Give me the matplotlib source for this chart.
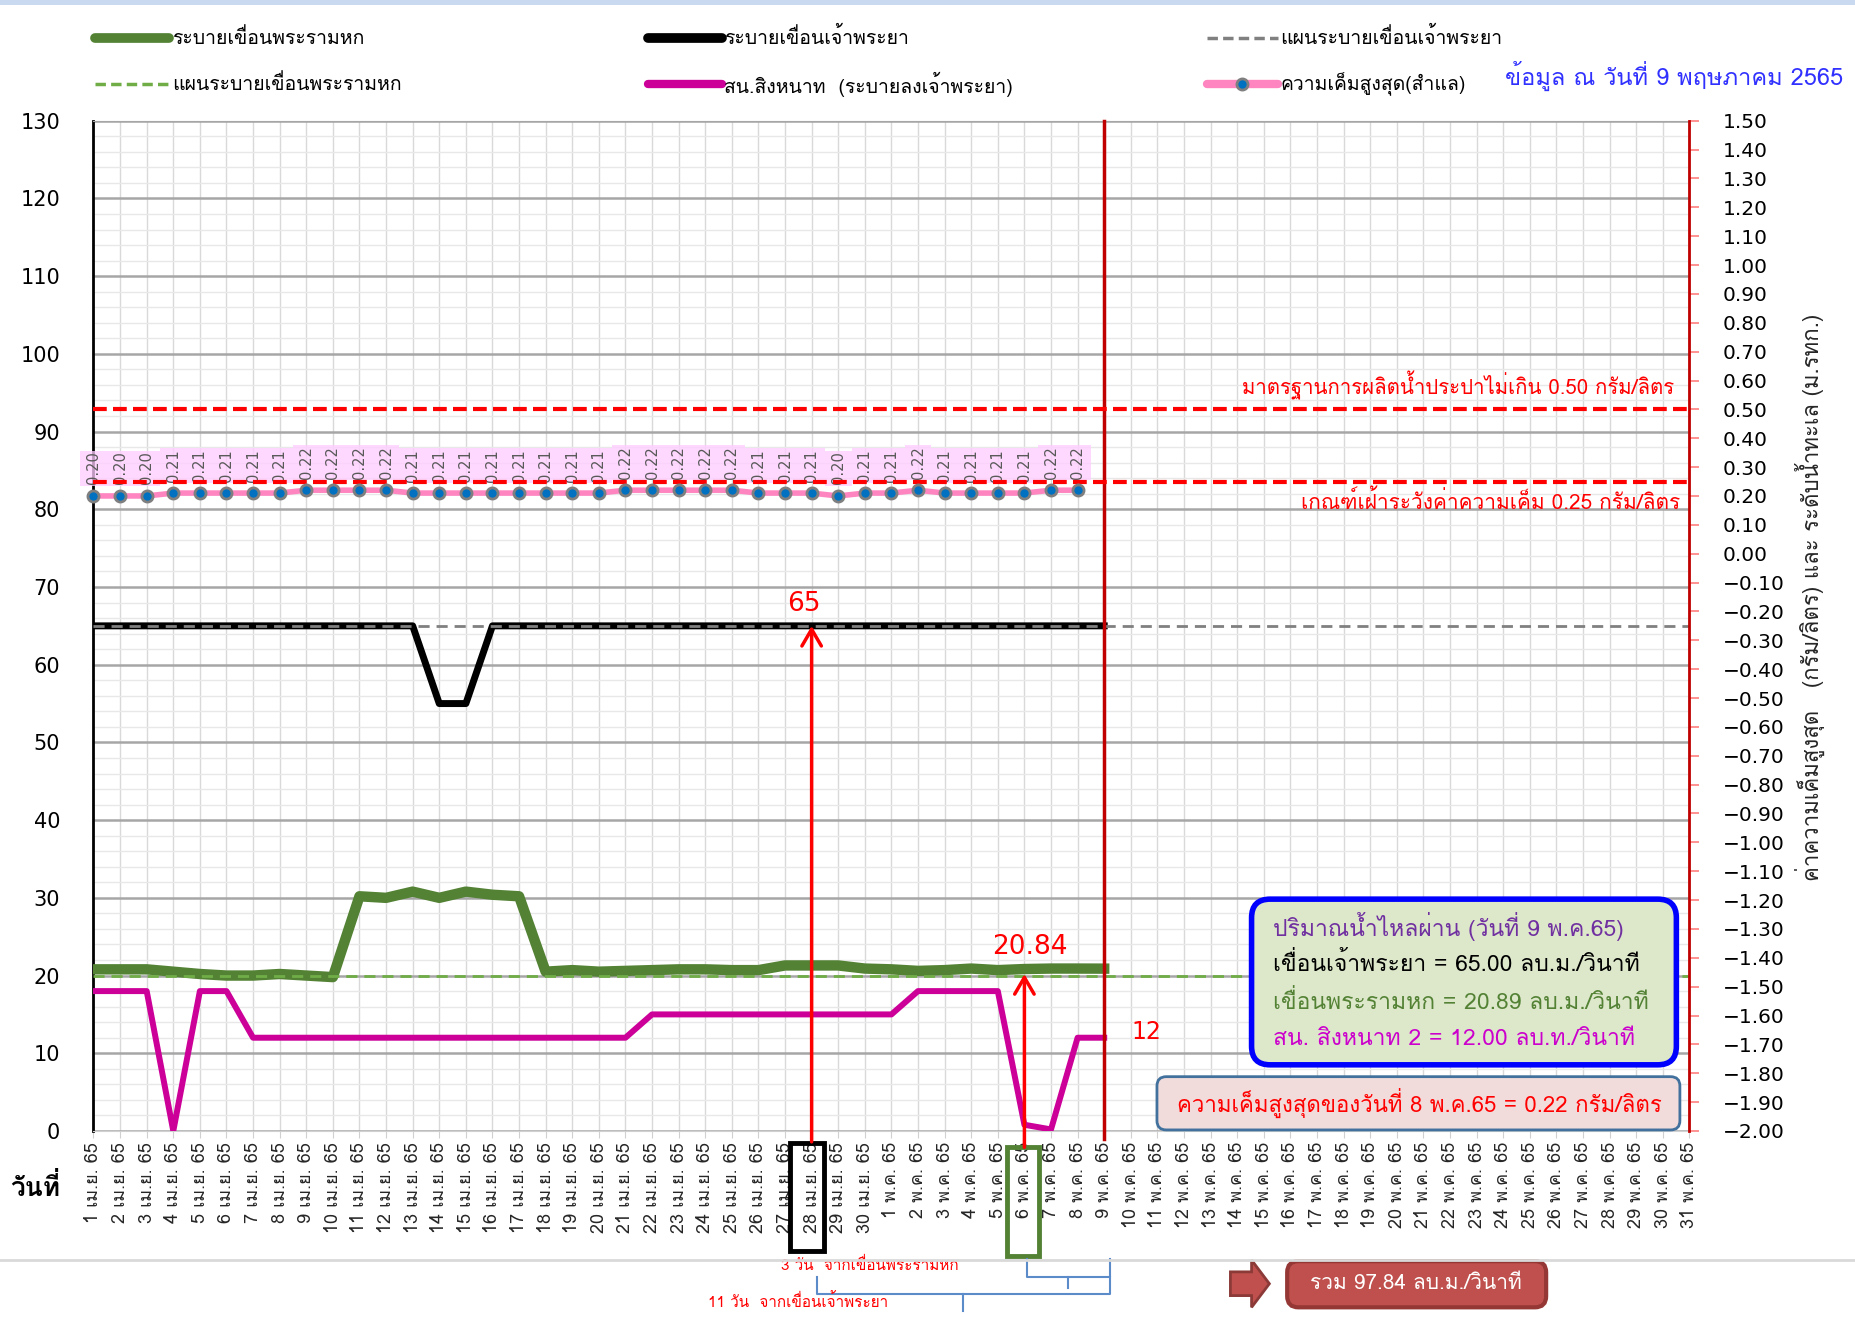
import numpy as np
import matplotlib
matplotlib.use("Agg")
import matplotlib.pyplot as plt
from matplotlib.patches import Rectangle, FancyBboxPatch, Polygon
from matplotlib.lines import Line2D
from matplotlib.ticker import MultipleLocator, FuncFormatter

THAI = ["Loma", "DejaVu Sans"]
plt.rcParams["font.family"] = THAI

# --- dates on the x axis (April + May 2565) ---
apr_days = list(range(1, 31))
may_days = list(range(1, 32))
apr_name = "เม.ย."
may_name = "พ.ค."
year_short = "65"
day_labels = ([f"{d} {apr_name} {year_short}" for d in apr_days] +
              [f"{d} {may_name} {year_short}" for d in may_days])

# --- discharge (m3/s), 1 Apr - 9 May ---
rama6_flow = [20.8, 20.8, 20.8, 20.5, 20.2, 20.0, 20.0, 20.2, 20.0, 19.8,
              30.2, 30.0, 30.8, 30.0, 30.8, 30.4, 30.2, 20.5, 20.7, 20.5,
              20.6, 20.7, 20.8, 20.8, 20.7, 20.7, 21.3, 21.3, 21.3, 20.9,
              20.8, 20.6, 20.7, 20.9, 20.7, 20.84, 20.9, 20.9, 20.89]
chao_flow = [65, 65, 65, 65, 65, 65, 65, 65, 65, 65,
             65, 65, 65, 55, 55, 65, 65, 65, 65, 65,
             65, 65, 65, 65, 65, 65, 65, 65, 65, 65,
             65, 65, 65, 65, 65, 65, 65, 65, 65]
singhanat_flow = [18, 18, 18, 0, 18, 18, 12, 12, 12, 12,
                  12, 12, 12, 12, 12, 12, 12, 12, 12, 12,
                  12, 15, 15, 15, 15, 15, 15, 15, 15, 15,
                  15, 18, 18, 18, 18, 0.8, 0.2, 12, 12]
rama6_plan = 20
chao_plan = 65
total_flow = 97.84

# --- max salinity at Samlae (g/l), 1 Apr - 8 May ---
salinity = [0.20, 0.20, 0.20, 0.21, 0.21, 0.21, 0.21, 0.21, 0.22, 0.22,
            0.22, 0.22, 0.21, 0.21, 0.21, 0.21, 0.21, 0.21, 0.21, 0.21,
            0.22, 0.22, 0.22, 0.22, 0.22, 0.21, 0.21, 0.21, 0.20, 0.21,
            0.21, 0.22, 0.21, 0.21, 0.21, 0.21, 0.22, 0.22]
limit_standard = 0.50
limit_watch = 0.25

GREEN = "#548235"
LIGHT_GREEN = "#70AD47"
MAGENTA = "#CC0099"
PINK = "#FF85C0"

x_all = np.arange(len(day_labels))
x_flow = np.arange(len(rama6_flow))
x_sal = np.arange(len(salinity))
today = len(rama6_flow) - 1

fig = plt.figure(figsize=(18.55, 13.18), dpi=100)
ax = fig.add_axes([0.0504, 0.1419, 0.8603, 0.7665])
ax2 = ax.twinx()

# left axis: discharge
ax.set_xlim(0, len(day_labels) - 1)
ax.set_ylim(0, 130)
ax.set_xticks(x_all)
ax.set_xticklabels(day_labels, rotation=90, fontsize=13, color="#262626")
ax.yaxis.set_major_locator(MultipleLocator(10))
ax.yaxis.set_minor_locator(MultipleLocator(2))
ax.set_axisbelow(True)
ax.grid(axis="y", which="major", color="#A6A6A6", lw=1.8)
ax.grid(axis="y", which="minor", color="#E8E8E8", lw=1)
ax.grid(axis="x", which="major", color="#D9D9D9", lw=1)
ax.tick_params(axis="y", which="both", length=0, pad=24, labelsize=15)
for t in ax.get_yticklabels():
    t.set_fontfamily("DejaVu Sans")
ax.tick_params(axis="x", length=5, color="#D0D0D0", pad=3)
ax.spines["left"].set_color("black")
ax.spines["left"].set_linewidth(2)
ax.spines["bottom"].set_color("#D0D0D0")
ax.spines["top"].set_color("#A6A6A6")
ax.spines["right"].set_visible(False)

ax.plot(x_all, [rama6_plan] * len(x_all), color=LIGHT_GREEN, lw=2,
        ls=(0, (4, 2.5)), zorder=4)
ax.plot(x_flow, rama6_flow, color=GREEN, lw=7.5, zorder=3,
        solid_joinstyle="round")
ax.plot(x_flow, chao_flow, color="black", lw=5, zorder=3)
ax.plot(x_all, [chao_plan] * len(x_all), color="#808080", lw=2,
        ls=(0, (4, 2.5)), zorder=4)
ax.plot(x_flow, singhanat_flow, color=MAGENTA, lw=4.3, zorder=3)

# current day marker
ax.plot([today, today], [-1, 130], color="#C00000", lw=2.5, zorder=5,
        clip_on=False)

# travel-time arrows
arrow_kw = dict(arrowstyle="->,head_length=1.2,head_width=0.7", color="red",
                lw=2.5, shrinkA=0, shrinkB=0, mutation_scale=10)
ax.annotate("", xy=(27, chao_flow[27]), xytext=(27, -1.4),
            arrowprops=arrow_kw, annotation_clip=False, zorder=6)
ax.annotate("", xy=(35, 20.2), xytext=(35, -2.1),
            arrowprops=arrow_kw, annotation_clip=False, zorder=6)
ax.text(26.7, 67.8, f"{chao_flow[27]:g}", color="red", fontsize=19,
        ha="center", va="center", family="DejaVu Sans")
ax.text(35.2, 23.7, f"{rama6_flow[35]:.2f}", color="red", fontsize=19,
        ha="center", va="center", family="DejaVu Sans")
ax.text(39.6, 12.8, f"{singhanat_flow[-1]:g}", color="red", fontsize=17,
        ha="center", va="center", family="DejaVu Sans")

# boxes around the release / arrival dates
ax.add_patch(Rectangle((26.2, -15.5), 1.25, 14.0, fill=False, ec="black",
                       lw=3.5, clip_on=False))
ax.add_patch(Rectangle((34.35, -16.1), 1.2, 14.0, fill=False, ec=GREEN,
                       lw=3.5, clip_on=False))

# braces under the axis
def brace(x0, x1, ytop, ybar, ytip):
    xc = (x0 + x1) / 2
    ax.plot([x0, x0, x1, x1], [ytop, ybar, ybar, ytop], color="#5B8BC9",
            lw=1.5, clip_on=False)
    ax.plot([xc, xc], [ybar, ytip], color="#5B8BC9", lw=1.5, clip_on=False)

brace(35.1, 38.2, -16.5, -18.8, -20.2)
brace(27.2, 38.2, -18.8, -21.0, -23.2)
ax.text(29.2, -17.3, "3 วัน  จากเขื่อนพระรามหก", color="red", fontsize=11,
        ha="center", va="center")
ax.text(26.5, -21.9, "11 วัน  จากเขื่อนเจ้าพระยา", color="red", fontsize=11,
        ha="center", va="center")

# right axis: salinity
ax2.set_ylim(-2.0, 1.5)
ax2.set_yticks(np.round(np.arange(-2.0, 1.501, 0.1), 2))
ax2.yaxis.set_major_formatter(
    FuncFormatter(lambda v, p: f"{v:.2f}".replace("-0.00", "0.00").replace("-", "\u2212")))
ax2.tick_params(axis="y", direction="out", length=7, color="#FF7F7F",
                width=1.2, pad=17, labelsize=14.5)
for t in ax2.get_yticklabels():
    t.set_fontfamily("DejaVu Sans")
ax2.spines["right"].set_color("#C00000")
ax2.spines["right"].set_linewidth(2)
for s in ("left", "top", "bottom"):
    ax2.spines[s].set_visible(False)

ax2.axhline(limit_standard, color="#FF0000", lw=3, ls=(0, (3.3, 1.5)), zorder=4)
ax2.axhline(limit_watch, color="#FF0000", lw=3, ls=(0, (3.3, 1.5)), zorder=4)
ax2.plot(x_sal, salinity, color=PINK, lw=4, marker="o", markersize=8,
         markerfacecolor="#0070C0", markeredgecolor="#7F7F7F",
         markeredgewidth=2, zorder=5, clip_on=False)
for i, v in enumerate(salinity):
    ax2.add_patch(Rectangle((i - 0.5, v + 0.035), 1, 0.12, fc="#FFCCFF",
                            ec="none", alpha=0.75, zorder=2, clip_on=False))
    ax2.text(i, v + 0.04, f"{v:.2f}", rotation=90, ha="center", va="bottom",
             fontsize=10.5, color="#595959", family="DejaVu Sans", zorder=3)

# text on the figure
fig.text(0.9024, 0.7074, f"มาตรฐานการผลิตน้ำประปาไม่เกิน {limit_standard:.2f} กรัม/ลิตร",
         color="red", fontsize=14.7, ha="right", va="center")
fig.text(0.9056, 0.6194, f"เกณฑ์เฝ้าระวังค่าความเค็ม {limit_watch:.2f} กรัม/ลิตร",
         color="red", fontsize=15, ha="right", va="center")
fig.text(0.9758, 0.5467, "ค่าความเค็มสูงสุด   (กรัม/ลิตร) และ ระดับน้ำทะเล (ม.รทก.)",
         rotation=90, fontsize=16, ha="center", va="center", color="#262626")
fig.text(0.0191, 0.0996, "วันที่", fontsize=19, fontweight="bold",
         ha="center", va="center")

# legend
legend_rows = [0.9713, 0.9363]
legend_cols = [(0.051, 0.0912), (0.3495, 0.389), (0.6505, 0.6888)]
entries = [
    (0, 0, "ระบายเขื่อนพระรามหก", dict(color=GREEN, lw=7, solid_capstyle="round")),
    (0, 1, "ระบายเขื่อนเจ้าพระยา", dict(color="black", lw=7, solid_capstyle="round")),
    (0, 2, "แผนระบายเขื่อนเจ้าพระยา", dict(color="#808080", lw=2.5, ls=(0, (3, 1.5)))),
    (1, 0, "แผนระบายเขื่อนพระรามหก", dict(color=LIGHT_GREEN, lw=2.5, ls=(0, (3, 1.5)))),
    (1, 1, "สน.สิงหนาท  (ระบายลงเจ้าพระยา)", dict(color=MAGENTA, lw=6, solid_capstyle="round")),
    (1, 2, "ความเค็มสูงสุด(สำแล)", dict(color=PINK, lw=6, solid_capstyle="round")),
]
for r, c, label, style in entries:
    x0, x1 = legend_cols[c]
    y = legend_rows[r]
    fig.add_artist(Line2D([x0, x1], [y, y], transform=fig.transFigure, **style))
    fig.text(x1 + 0.0015, y, label, fontsize=14, ha="left", va="center")
fig.add_artist(Line2D([0.6696], [legend_rows[1]], transform=fig.transFigure,
                      marker="o", markersize=8, markerfacecolor="#0070C0",
                      markeredgecolor="#7F7F7F", markeredgewidth=2))
fig.text(0.8112, 0.9425, "ข้อมูล ณ วันที่ 9 พฤษภาคม 2565", color="#3030FF",
         fontsize=17, ha="left", va="center")

# summary boxes
aspect = 1855 / 1318
fig.add_artist(FancyBboxPatch((0.6747, 0.1921), 0.229, 0.1257,
                              boxstyle="round,pad=0,rounding_size=0.01",
                              mutation_aspect=aspect, transform=fig.transFigure,
                              fc="#DDE8CB", ec="#0000FF", lw=4))
box_lines = [
    ("ปริมาณน้ำไหลผ่าน (วันที่ 9 พ.ค.65)", "#7030A0"),
    (f"เขื่อนเจ้าพระยา = {chao_flow[-1]:.2f} ลบ.ม./วินาที", "black"),
    (f"เขื่อนพระรามหก = {rama6_flow[-1]:.2f} ลบ.ม./วินาที", GREEN),
    (f"สน. สิงหนาท 2 = {singhanat_flow[-1]:.2f} ลบ.ท./วินาที", "#CC00CC"),
]
for k, (txt, col) in enumerate(box_lines):
    fig.text(0.6862, 0.2971 - k * 0.0287, txt, color=col, fontsize=16.5,
             ha="left", va="center")

fig.add_artist(FancyBboxPatch((0.6237, 0.1427), 0.2819, 0.0404,
                              boxstyle="round,pad=0,rounding_size=0.005",
                              mutation_aspect=aspect, transform=fig.transFigure,
                              fc="#F2DCDB", ec="#41719C", lw=2))
fig.text(0.7653, 0.1634,
         f"ความเค็มสูงสุดของวันที่ 8 พ.ค.65 = {salinity[-1]:.2f} กรัม/ลิตร",
         color="red", fontsize=16, ha="center", va="center")

# total discharge
fig.add_artist(Line2D([0, 1], [0.044, 0.044], transform=fig.transFigure,
                      color="#D9D9D9", lw=2))
fig.add_artist(Polygon([(0.6633, 0.0350), (0.6747, 0.0350), (0.6747, 0.0440),
                        (0.6843, 0.0260), (0.6747, 0.0081), (0.6747, 0.0170),
                        (0.6633, 0.0170)], closed=True,
                       transform=fig.transFigure, fc="#C0504D", ec="#8B3A38", lw=2))
fig.add_artist(FancyBboxPatch((0.6939, 0.0081), 0.1396, 0.035,
                              boxstyle="round,pad=0,rounding_size=0.006",
                              mutation_aspect=aspect, transform=fig.transFigure,
                              fc="#C0504D", ec="#953735", lw=3))
fig.text(0.7634, 0.026, f"รวม {total_flow:.2f} ลบ.ม./วินาที", color="white",
         fontsize=15, ha="center", va="center")

fig.add_artist(Rectangle((0, 0.996), 1, 0.004, transform=fig.transFigure,
                         fc="#C9DAF0", ec="none"))

fig.savefig("out.png", dpi=100)
